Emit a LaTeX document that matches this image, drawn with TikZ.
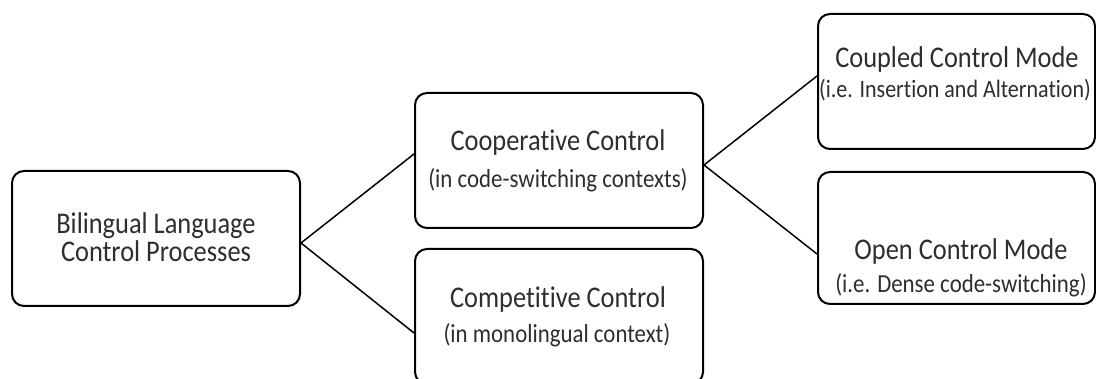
\documentclass[tikz,border=0pt]{standalone}
\usepackage{fontspec}
\setmainfont{Carlito}[FakeStretch=0.88, RawFeature=-liga]
\usetikzlibrary{calc}
\tikzset{
  card/.style={draw, line width=2pt, rounded corners=12pt, inner sep=0pt,
    minimum width=288pt, minimum height=135pt},
  headline/.style={anchor=base, inner sep=0pt, text=black!82, font=\fontsize{30}{30}\selectfont},
  subline/.style={anchor=base, inner sep=0pt, text=black!82, font=\fontsize{26}{26}\selectfont},
  link/.style={line width=1.5pt}
}
\begin{document}
\begin{tikzpicture}[x=1pt, y=-1pt]
\clip (0,0) rectangle (1096,379);
\fill[white] (0,0) rectangle (1096,379);

% boxes
\node[card] (root) at (156,238.5) {};
\node[card] (coop) at (559,160.5) {};
\node[card] (comp) at (559,316.5) {};
\node[card, minimum width=277pt] (coupled) at (956.5,81.5) {};
\node[card, minimum width=277pt, minimum height=132pt] (open) at (956.5,238) {};

% texts
\node[headline] (rootA) at (156,234) {Bilingual Language};
\node[headline] (rootB) at (156,262) {Control Processes};
\node[headline] (coopA) at (558,151) {Cooperative Control};
\node[subline]  (coopB) at (558,188) {(in code-switching contexts)};
\node[headline] (compA) at (558,308) {Competitive Control};
\node[subline]  (compB) at (557,343) {(in monolingual context)};
\node[headline] (coupledA) at (957,68) {Coupled Control Mode};
\node[subline, font=\fontsize{25}{25}\selectfont] (coupledB) at (955,98) {(i.e. Insertion and Alternation)};
\node[headline] (openA) at (961,260) {Open Control Mode};
\node[subline]  (openB) at (961,293) {(i.e. Dense code-switching)};

% connectors
\draw[link] ($(root.east)+(0,4.5)$) -- ($(coop.west)+(0,-6.5)$);
\draw[link] ($(root.east)+(0,4.5)$) -- ($(comp.west)+(0,16.5)$);
\draw[link] ($(coop.east)+(0,4.5)$) -- ($(coupled.west)+(0,-5.5)$);
\draw[link] ($(coop.east)+(0,4.5)$) -- ($(open.west)+(0,16)$);
\end{tikzpicture}
\end{document}
